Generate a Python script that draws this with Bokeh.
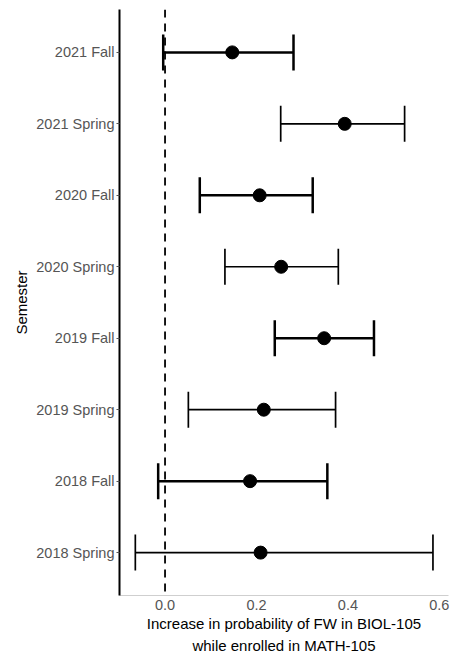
from bokeh.plotting import figure
from bokeh.models import (ColumnDataSource, FactorRange, Range1d, Whisker, TeeHead,
                          Span, FixedTicker, NumeralTickFormatter)
from bokeh.embed import file_html
from bokeh.resources import INLINE

# ---- data (top to bottom as shown) ----
semesters = ["2021 Fall", "2021 Spring", "2020 Fall", "2020 Spring",
             "2019 Fall", "2019 Spring", "2018 Fall", "2018 Spring"]
estimate = [0.147, 0.393, 0.207, 0.254, 0.348, 0.216, 0.186, 0.209]
lower = [-0.004, 0.253, 0.076, 0.131, 0.240, 0.051, -0.015, -0.065]
upper = [0.281, 0.524, 0.323, 0.379, 0.457, 0.373, 0.355, 0.586]
x_ticks = [0.0, 0.2, 0.4, 0.6]

FONT = "Liberation Sans"

factors = list(reversed(semesters))
p = figure(width=454, height=656, output_backend="svg", toolbar_location=None,
           y_range=FactorRange(factors=factors, range_padding=0.1,
                               range_padding_units="absolute"),
           x_range=Range1d(-0.0996, 0.620),
           min_border_left=119, min_border_right=6, min_border_top=9,
           min_border_bottom=56)
p.outline_line_color = None
p.xgrid.grid_line_color = None
p.ygrid.grid_line_color = None
p.background_fill_color = "white"
p.border_fill_color = "white"

# zero line
p.add_layout(Span(location=0, dimension="height", line_color="black",
                  line_dash="8 6", line_width=1.8))

# error bars (fall / spring drawn separately for line weight)
for season, lw in (("Fall", 2.5), ("Spring", 1.7)):
    idx = [i for i, s in enumerate(semesters) if s.endswith(season)]
    src = ColumnDataSource(dict(
        semester=[semesters[i] for i in idx],
        estimate=[estimate[i] for i in idx],
        lower=[lower[i] for i in idx],
        upper=[upper[i] for i in idx]))
    w = Whisker(source=src, base="semester", lower="lower", upper="upper",
                dimension="width", line_color="black", line_width=lw,
                lower_head=TeeHead(size=36, line_color="black", line_width=lw),
                upper_head=TeeHead(size=36, line_color="black", line_width=lw),
                level="glyph")
    p.add_layout(w)
    p.scatter(x="estimate", y="semester", source=src, size=13,
              fill_color="black", line_color="black")

# x axis
xa = p.xaxis[0]
xa.ticker = FixedTicker(ticks=x_ticks)
xa.formatter = NumeralTickFormatter(format="0.0")
xa.axis_line_color = "#cfcfcf"
xa.axis_line_width = 1
xa.major_tick_line_color = None
xa.minor_tick_line_color = None
xa.major_tick_out = 0
xa.major_tick_in = 0
xa.major_label_standoff = 4
xa.major_label_text_font = FONT
xa.major_label_text_font_size = "14.5px"
xa.major_label_text_color = "#555555"
xa.axis_label = "Increase in probability of FW in BIOL-105\nwhile enrolled in MATH-105"
xa.axis_label_text_font = FONT
xa.axis_label_text_font_size = "15px"
xa.axis_label_text_font_style = "normal"
xa.axis_label_text_color = "black"
xa.axis_label_text_line_height = 1.3
xa.axis_label_standoff = 2

# y axis
ya = p.yaxis[0]
ya.axis_line_color = "black"
ya.axis_line_width = 2
ya.major_tick_line_color = "#555555"
ya.major_tick_out = 3
ya.major_tick_in = 0
ya.major_label_standoff = 2
ya.major_label_text_font = FONT
ya.major_label_text_font_size = "14.5px"
ya.major_label_text_color = "#555555"
ya.axis_label = "Semester"
ya.axis_label_text_font = FONT
ya.axis_label_text_font_size = "15px"
ya.axis_label_text_font_style = "normal"
ya.axis_label_text_color = "black"
ya.axis_label_standoff = 3

open("out.html", "w").write(file_html(p, INLINE))
